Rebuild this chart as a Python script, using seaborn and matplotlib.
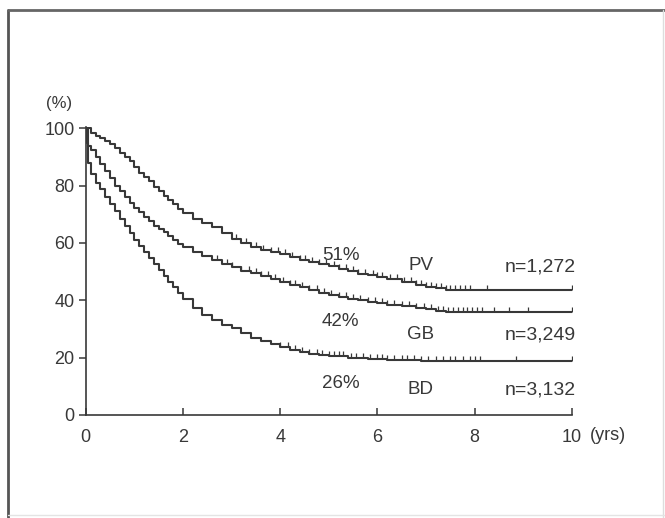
import numpy as np
import pandas as pd
import matplotlib
matplotlib.use("Agg")
import matplotlib.pyplot as plt
from matplotlib.lines import Line2D
import seaborn as sns

# survival readings (years, %)
pv_t = [0, 0.1, 0.2, 0.3, 0.4, 0.5, 0.6, 0.7, 0.8, 0.9, 1.0, 1.1, 1.2, 1.3, 1.4, 1.5, 1.6, 1.7, 1.8, 1.9,
        2.0, 2.2, 2.4, 2.6, 2.8, 3.0, 3.2, 3.4, 3.6, 3.8, 4.0, 4.2, 4.4, 4.6, 4.8, 5.0, 5.2, 5.4, 5.6, 5.8,
        6.0, 6.2, 6.5, 6.8, 7.0, 7.2, 7.4, 8.2, 10.0]
pv_s = [100, 98.5, 97.5, 96.5, 95.5, 94.5, 93, 91.5, 90, 88.5, 86.5, 84.5, 83, 81.5, 79.5, 78, 76.5, 75, 73.5, 72,
        70.5, 68.5, 67, 65.5, 63.5, 61.5, 60, 58.5, 57.5, 57, 56, 55, 54, 53.2, 52.5, 51.8, 51, 50.2, 49.2, 48.7,
        48.2, 47.5, 46.3, 45.5, 44.8, 44.2, 43.7, 43.5, 43.5]

gb_t = [0, 0.05, 0.1, 0.2, 0.3, 0.4, 0.5, 0.6, 0.7, 0.8, 0.9, 1.0, 1.1, 1.2, 1.3, 1.4, 1.5, 1.6, 1.7, 1.8, 1.9,
        2.0, 2.2, 2.4, 2.6, 2.8, 3.0, 3.2, 3.4, 3.6, 3.8, 4.0, 4.2, 4.4, 4.6, 4.8, 5.0, 5.2, 5.4, 5.6, 5.8,
        6.0, 6.2, 6.5, 6.8, 7.0, 7.2, 7.4, 10.0]
gb_s = [100, 94, 92.5, 90, 87.5, 85, 82.5, 80, 78, 76, 74, 72.3, 70.8, 69.2, 67.5, 66, 65, 63.8, 62.5, 61, 59.8,
        58.6, 57, 55.5, 54, 52.8, 51.5, 50.3, 49.5, 48.5, 47.5, 46.4, 45.5, 44.6, 43.6, 42.6, 41.8, 41, 40.5, 40, 39.4,
        38.9, 38.5, 38, 37.2, 36.8, 36.3, 36, 36]

bd_t = [0, 0.02, 0.05, 0.1, 0.2, 0.3, 0.4, 0.5, 0.6, 0.7, 0.8, 0.9, 1.0, 1.1, 1.2, 1.3, 1.4, 1.5, 1.6, 1.7, 1.8, 1.9,
        2.0, 2.2, 2.4, 2.6, 2.8, 3.0, 3.2, 3.4, 3.6, 3.8, 4.0, 4.2, 4.4, 4.6, 4.8, 5.0, 5.4, 5.8, 6.2, 6.6, 6.9, 10.0]
bd_s = [100, 95, 88, 84, 81, 79, 76, 73.5, 71, 68.5, 66, 63.5, 61, 59, 57, 54.8, 52.5, 50.5, 48.5, 46.5, 44.5, 42.5,
        40.5, 37.2, 35, 33.2, 31.5, 30.2, 28.5, 27, 25.8, 24.8, 23.7, 22.8, 22, 21.3, 20.8, 20.4, 20, 19.6, 19.3, 19, 18.7, 18.7]

# censored observations (years)
pv_cens = [3.1, 3.3, 3.5, 3.65, 3.8, 3.95, 4.1, 4.25, 4.4, 4.5, 4.65, 4.8, 4.95, 5.1, 5.2, 5.35, 5.5, 5.6, 5.75, 5.9,
           6.0, 6.1, 6.25, 6.4, 6.55, 6.7, 6.8, 6.9, 7.0, 7.1, 7.2, 7.3, 7.4, 7.5, 7.6, 7.7, 7.8, 7.9, 8.25, 10.0]
gb_cens = [2.7, 2.9, 3.0, 3.2, 3.35, 3.5, 3.6, 3.75, 3.9, 4.05, 4.2, 4.3, 4.45, 4.6, 4.75, 4.9, 5.05, 5.2, 5.35, 5.5,
           5.65, 5.8, 5.95, 6.1, 6.2, 6.35, 6.5, 6.65, 6.8, 6.95, 7.1, 7.25, 7.35, 7.45, 7.55, 7.65, 7.75, 7.85, 7.95,
           8.05, 8.15, 8.4, 8.7, 9.1, 10.0]
bd_cens = [4.0, 4.15, 4.3, 4.45, 4.6, 4.75, 4.85, 5.0, 5.1, 5.2, 5.3, 5.45, 5.55, 5.7, 5.85, 6.0, 6.1, 6.2, 6.35, 6.5,
           6.6, 6.75, 6.9, 7.05, 7.2, 7.35, 7.5, 7.6, 7.75, 7.9, 8.0, 8.1, 8.85, 10.0]

groups = ["PV", "GB", "BD"]
five_year = ["51%", "42%", "26%"]
n_labels = ["n=1,272", "n=3,249", "n=3,132"]

series = {"PV": (pv_t, pv_s, pv_cens), "GB": (gb_t, gb_s, gb_cens), "BD": (bd_t, bd_s, bd_cens)}

df = pd.concat([pd.DataFrame({"years": t, "surv": s, "group": g}) for g, (t, s, _) in series.items()])

sns.set_theme(style="ticks")
plt.rcParams["font.family"] = ["Liberation Sans", "DejaVu Sans"]
ink = "#383838"

fig = plt.figure(figsize=(6.65, 5.18), dpi=100)
ax = fig.add_axes([0.129, 0.199, 0.731, 0.556])

sns.lineplot(data=df, x="years", y="surv", units="group", estimator=None, color=ink,
             drawstyle="steps-post", linewidth=1.5, ax=ax)

# censor marks sit on the step curve
for g, (t, s, cens) in series.items():
    t = np.asarray(t)
    s = np.asarray(s)
    idx = np.searchsorted(t, cens, side="right") - 1
    ax.plot(cens, s[idx], ls="", marker=2, ms=3.5, mew=0.9, color=ink)

ax.set_xlim(0, 10)
ax.set_ylim(0, 100.5)
ax.set_xticks(range(0, 11, 2))
ax.set_yticks(range(0, 101, 20))
ax.set_xlabel("")
ax.set_ylabel("")
sns.despine(ax=ax)
for sp in ["left", "bottom"]:
    ax.spines[sp].set_color(ink)
    ax.spines[sp].set_linewidth(1.2)
ax.tick_params(axis="x", direction="in", length=5, width=1.1, colors=ink, labelsize=13, pad=10)
ax.tick_params(axis="y", direction="out", length=5, width=1.1, colors=ink, labelsize=13, pad=3)

# annotations
label_y = [(55.7, 52.3, 51.6), (32.5, 27.9, 27.9), (11.1, 8.7, 8.7)]
for (g, pct, n, (y1, y2, y3)) in zip(groups, five_year, n_labels, label_y):
    ax.text(5.24, y1, pct, ha="center", va="center", fontsize=13.5, color=ink)
    ax.text(6.89, y2, g, ha="center", va="center", fontsize=13.5, color=ink)
    ax.text(10.08, y3, n, ha="right", va="center", fontsize=14, color=ink)

ax.text(-0.55, 108.5, "(%)", ha="center", va="center", fontsize=12, color=ink, clip_on=False)
ax.text(10.38, -7.2, "(yrs)", ha="left", va="center", fontsize=13, color=ink, clip_on=False)

# outer frame of the scanned figure
fig.add_artist(Line2D([8 / 665, 8 / 665], [0.0, 1 - 10 / 518], color="#555555", lw=2))
fig.add_artist(Line2D([8 / 665, 1.0], [1 - 10 / 518, 1 - 10 / 518], color="#666666", lw=2))
fig.add_artist(Line2D([663 / 665, 663 / 665], [0.0, 1 - 10 / 518], color="#dddddd", lw=1))
fig.add_artist(Line2D([8 / 665, 1.0], [3 / 518, 3 / 518], color="#e4e4e4", lw=1))

fig.savefig("out.png", dpi=100, facecolor="white")
